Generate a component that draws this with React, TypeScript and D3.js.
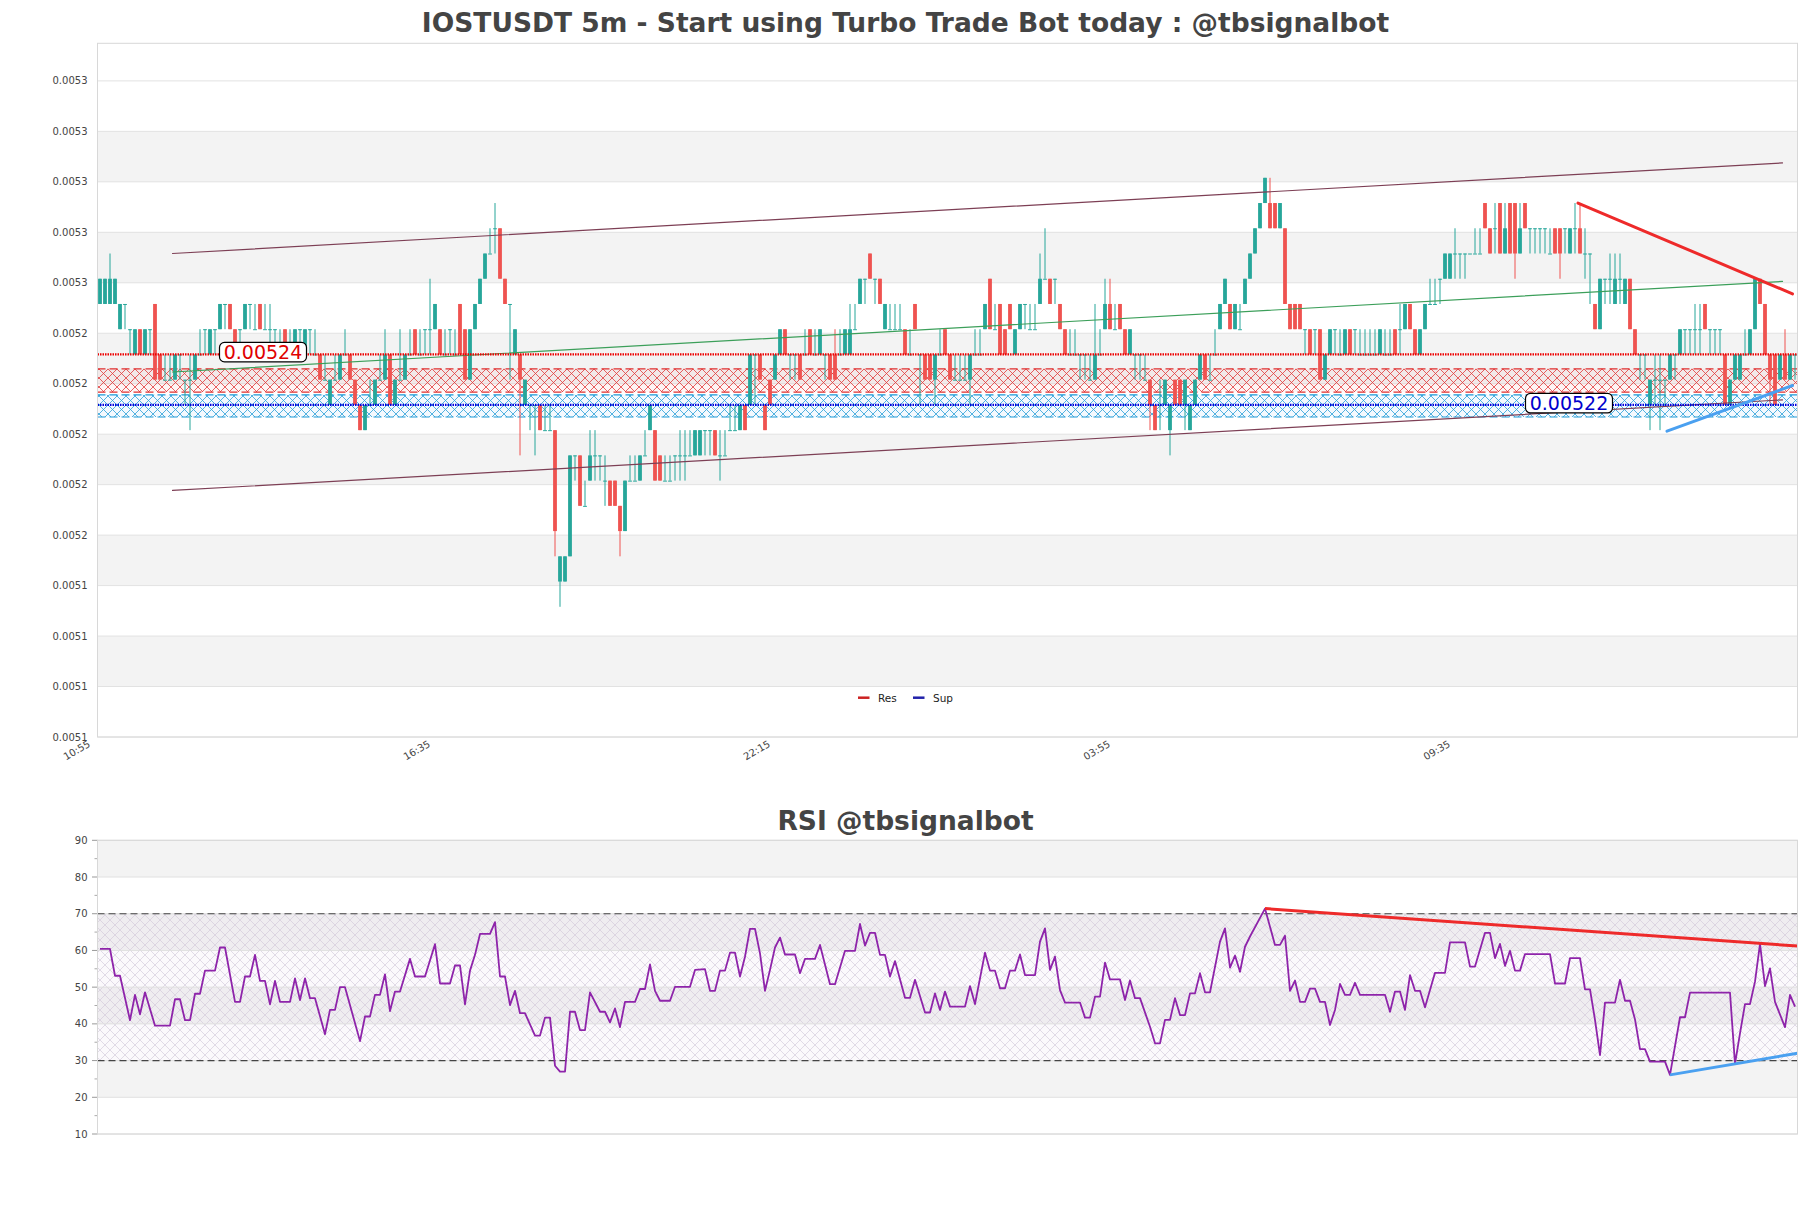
import { useEffect, useRef } from "react";
import * as d3 from "d3";

const W = 1811;
const H = 1208;
const FONT = "DejaVu Sans, sans-serif";

// candle prices in 0.00001 steps above 0.005 (24 -> 0.00524)
const opens = [
  26,26,26,26,25,26,25,24,25,24,25,26,24,23,23,23,24,23,23,23,
  24,25,24,25,25,26,26,25,25,25,26,25,26,25,25,25,24,25,24,24,
  25,24,25,24,24,23,22,23,23,24,24,23,22,21,22,22,23,23,24,22,
  23,23,24,25,24,25,25,25,25,24,25,24,26,25,23,25,26,27,28,29,
  29,27,26,24,24,22,22,22,22,21,21,21,15,15,16,20,20,18,19,20,
  20,19,19,19,18,17,19,19,19,20,21,21,20,19,19,20,20,20,20,20,
  20,21,21,21,20,20,21,21,21,22,22,24,24,22,23,23,24,25,24,24,
  24,24,25,24,24,24,24,24,24,24,24,25,26,27,28,27,27,25,25,25,
  25,25,24,26,24,24,24,23,24,25,24,23,23,23,23,24,24,25,27,25,
  26,25,26,24,25,26,25,25,26,27,27,27,26,25,24,24,24,24,23,23,
  24,25,26,25,26,25,24,24,24,23,23,22,22,22,21,23,23,22,21,22,
  23,24,23,24,25,26,26,25,25,26,27,28,29,30,30,30,29,29,26,26,
  26,25,25,25,25,23,24,25,24,24,25,25,24,24,24,24,24,24,24,25,
  25,25,26,25,24,25,26,26,27,27,27,28,28,28,28,28,28,30,29,29,
  30,28,30,30,28,30,29,29,29,29,28,29,29,29,28,29,29,28,28,26,
  25,27,27,26,27,26,27,25,24,24,22,23,23,23,23,24,24,25,25,25,
  25,26,25,25,25,24,22,23,23,24,24,25,27,26,24,24,23,24,23,24,
];
const closes = [
  27,27,27,27,26,26,25,25,24,25,25,23,23,23,23,24,24,23,23,24,
  24,25,25,25,26,26,25,24,25,26,26,25,25,25,25,25,24,24,24,25,
  25,25,25,24,23,23,23,23,24,24,23,22,21,22,22,23,23,24,22,23,
  23,24,24,24,24,25,25,26,24,24,25,24,24,23,25,26,27,28,28,29,
  27,26,26,25,23,23,22,22,21,21,21,17,16,16,20,20,18,18,20,20,
  20,19,18,18,17,19,19,19,20,20,22,19,19,19,19,20,20,20,20,21,
  21,21,21,20,20,20,21,21,22,21,24,24,23,21,22,24,25,24,24,24,
  23,24,24,24,25,24,23,23,24,25,25,25,27,27,27,27,26,26,25,25,
  25,24,24,25,24,23,23,24,24,24,23,23,23,23,24,24,24,26,25,25,
  24,24,25,25,26,26,25,25,27,27,26,27,25,24,24,24,24,24,23,24,
  24,26,25,25,25,24,25,24,24,23,22,21,22,23,22,22,22,23,22,23,
  24,23,23,24,26,27,25,26,25,27,28,29,30,31,29,29,30,26,25,25,
  25,25,24,25,23,24,25,25,24,25,24,25,24,24,24,24,25,24,24,24,
  25,26,25,24,25,26,26,26,27,28,28,28,28,28,28,28,28,29,28,29,
  28,29,28,28,29,29,29,29,29,29,28,28,28,29,29,29,28,28,28,25,
  27,27,27,27,27,27,25,24,24,24,23,23,23,23,24,24,25,25,25,25,
  25,25,25,25,25,22,23,24,24,24,25,27,26,24,23,22,24,23,24,24,
];
const highs = [
  27,27,28,27,26,26,25,25,25,25,25,26,24,24,24,24,24,23,24,24,
  25,25,25,25,26,26,26,25,25,26,26,26,26,26,26,25,25,25,25,25,
  25,25,25,25,24,24,23,24,24,25,24,23,22,22,23,23,24,25,24,23,
  25,24,25,25,25,25,27,26,25,25,25,25,26,25,25,26,27,28,29,30,
  29,27,26,25,24,23,22,22,22,22,22,21,16,16,20,20,20,19,21,21,
  20,20,19,19,18,19,20,20,20,21,22,21,20,20,20,20,21,21,21,21,
  21,21,21,21,21,21,22,22,22,22,24,24,24,22,23,24,25,25,24,24,
  24,25,25,25,25,24,24,25,25,25,26,26,27,27,28,27,27,26,26,26,
  26,25,25,26,24,24,24,24,25,25,24,24,24,24,24,25,25,26,27,26,
  26,25,26,25,26,26,26,26,28,29,27,27,26,25,25,25,24,24,24,26,
  25,27,27,26,26,25,25,24,24,24,23,22,23,23,22,23,23,23,22,23,
  24,24,24,25,26,27,26,26,26,27,28,29,30,31,31,30,30,29,26,26,
  26,25,25,25,25,24,25,25,25,25,25,25,25,25,25,25,25,25,25,25,
  26,26,26,25,25,26,27,27,27,28,28,29,28,28,28,29,29,30,29,30,
  30,30,30,30,30,30,29,29,29,29,29,29,29,29,29,30,30,29,28,26,
  27,27,28,28,28,27,27,25,24,24,23,24,24,23,24,24,25,25,25,26,
  26,26,25,25,25,24,23,24,24,25,25,27,27,26,24,24,24,25,24,24,
];
const lows = [
  26,26,26,26,25,25,24,24,24,24,24,23,23,23,23,23,23,22,21,23,
  24,24,24,24,25,25,25,24,24,25,25,25,25,25,24,24,24,24,24,24,
  24,24,24,24,23,23,22,23,23,24,23,22,21,21,22,22,23,23,22,22,
  23,23,24,24,24,24,24,25,24,24,24,24,24,23,23,25,26,27,28,28,
  27,26,23,24,20,22,21,20,21,21,21,16,14,15,16,19,18,18,19,19,
  19,18,18,18,16,17,19,19,19,20,21,19,19,19,19,19,19,19,20,20,
  20,20,20,20,19,20,21,21,21,21,22,22,23,21,22,23,24,24,23,23,
  23,24,24,24,24,23,23,23,24,24,24,25,26,26,27,26,26,25,25,25,
  25,24,24,25,22,23,23,22,24,24,23,23,23,23,22,24,24,25,25,25,
  24,24,25,24,25,25,25,25,26,27,26,26,25,24,24,24,23,23,23,23,
  24,25,25,25,25,24,24,23,23,23,21,21,21,22,20,22,22,21,21,22,
  23,23,23,24,25,26,25,25,25,26,27,28,29,30,29,29,29,26,25,25,
  25,24,24,24,23,23,24,24,24,24,24,24,24,24,24,24,24,24,24,24,
  24,25,25,24,24,25,26,26,26,27,27,27,27,27,28,28,28,29,28,28,
  28,28,28,27,28,29,28,28,28,28,28,28,27,28,28,28,28,27,26,25,
  25,26,26,26,26,26,25,24,23,23,21,22,21,22,23,23,24,24,24,24,
  24,25,24,24,24,22,22,23,23,24,24,25,26,24,22,22,23,23,23,23,
];
const PRICE_BASE = 0.005;
const PIP = 0.00001;

const timeTickIdx = [0, 68, 136, 204, 272];
const timeLabels = ["10:55", "16:35", "22:15", "03:55", "09:35"];

const yTickValues = [
  0.0050884, 0.0051084, 0.0051284, 0.0051484, 0.0051684, 0.0051884, 0.0052084,
  0.0052284, 0.0052484, 0.0052684, 0.0052884, 0.0053084, 0.0053284, 0.0053484,
];
const yDomain = [0.0050884, 0.0053633];

// support / resistance
const resLevel = 0.00524;
const supLevel = 0.00522;
const resZone = [0.0052251, 0.0052343];
const supZone = [0.0052152, 0.005224];
const channelIdx = [14.5, 336.5];
const channelUpper = [0.00528, 0.0053159];
const channelLower = [0.0051861, 0.005222];
const resTrendIdx = [295.6, 338.5];
const resTrendVal = [0.0053, 0.005264];
const supTrendIdx = [313.4, 338.5];
const supTrendVal = [0.0052096, 0.0052277];

// RSI turning points (candle index, value)
const rsiIdx = [
  0,2,3,4,6,7,8,9,11,14,15,16,17,18,19,20,21,23,24,25,27,28,29,30,31,32,33,34,35,36,38,39,40,41,42,43,45,46,47,48,49,
  52,53,54,55,56,57,58,59,60,62,63,65,67,68,70,71,72,73,74,75,76,78,79,80,81,82,83,84,85,87,88,89,90,91,92,93,94,95,
  96,97,98,100,101,102,103,104,105,107,108,109,110,111,112,114,115,118,119,121,122,123,124,125,126,127,128,129,130,
  131,132,133,134,135,136,137,139,140,141,143,144,146,147,149,151,152,153,154,155,156,157,158,159,161,162,163,165,166,
  167,168,169,170,173,174,175,177,178,179,180,181,182,183,184,185,187,188,189,190,191,192,193,196,197,198,199,200,201,
  202,204,205,206,207,208,210,211,212,213,214,215,216,217,218,219,220,221,222,224,225,226,227,228,229,230,233,235,236,
  237,238,239,240,241,242,243,244,245,246,247,248,249,250,251,252,257,258,259,260,261,262,263,264,265,267,269,270,273,
  274,275,277,278,279,280,281,282,283,284,285,290,291,293,294,296,297,298,299,300,301,303,304,305,306,307,308,309,310,
  313,314,316,317,318,326,327,328,329,330,331,332,333,334,335,337,338,339,
];
const rsiVal = [
  60.4,60.4,53.1,53.1,41.0,47.9,42.6,48.6,39.5,39.5,46.7,46.7,41.0,41.0,48.2,48.2,54.5,54.5,60.8,60.8,46.0,46.0,52.9,
  52.9,58.8,51.7,51.7,45.3,51.7,46.0,46.0,52.4,46.5,52.4,47.0,47.0,37.2,43.8,43.8,50.0,50.0,
  35.3,42.0,42.0,47.9,47.9,53.5,43.5,48.8,48.8,57.7,52.9,52.9,61.7,51.0,51.0,55.9,55.9,45.3,54.5,58.8,64.5,64.5,67.7,
  52.9,52.9,45.1,49.0,42.9,42.9,36.8,36.8,41.7,41.7,28.6,27.0,27.0,43.3,43.3,
  38.3,38.3,48.6,43.3,43.3,40.4,44.2,39.1,46.0,46.0,49.5,49.5,56.2,49.0,46.3,46.3,50.1,50.1,54.7,54.9,49.0,49.0,54.5,
  54.5,59.4,59.4,52.9,58.3,65.9,
  65.9,59.2,49.0,54.7,60.8,63.5,58.9,58.9,53.8,57.7,57.7,61.5,50.8,50.8,59.9,59.9,67.2,61.3,64.8,64.8,58.8,58.8,52.9,
  57.1,47.1,47.1,52.0,43.1,43.1,
  48.3,43.8,48.8,44.7,44.7,50.3,45.4,59.4,54.5,54.5,49.7,49.7,54.5,54.5,58.9,53.3,53.3,62.4,66.0,54.7,58.3,49.2,45.8,
  45.8,41.7,41.7,47.4,47.4,56.7,
  52.1,52.1,46.5,51.8,47.0,47.0,39.2,34.7,34.7,41.1,41.1,47.0,42.4,42.4,48.3,48.3,53.8,48.6,48.6,62.4,66.0,55.3,58.6,
  54.2,61.0,63.8,71.4,61.5,61.5,
  64.0,49.0,51.8,46.0,46.0,49.6,49.6,46.0,46.0,39.7,43.8,50.9,47.9,47.9,51.2,47.9,47.9,43.3,48.8,48.8,43.8,53.3,49.0,
  49.0,44.5,53.9,53.9,62.2,62.2,
  55.6,55.6,64.8,64.8,57.9,61.8,55.8,59.9,54.5,54.5,59.0,59.0,51.0,51.0,57.9,57.9,49.4,49.4,41.1,31.5,45.8,45.8,52.0,
  46.3,46.3,41.2,33.1,33.1,29.7,
  29.7,26.1,41.8,41.8,48.5,48.5,29.1,37.4,45.4,45.4,51.5,61.8,50.3,55.1,46.0,39.1,47.9,44.7,
];
const rsiTicks = [10, 20, 30, 40, 50, 60, 70, 80, 90];
const rsiResIdx = [233, 339.5];
const rsiResVal = [71.4, 61.2];
const rsiSupIdx = [314, 339.5];
const rsiSupVal = [26.1, 32.0];

const App = () => {
  const svgRef = useRef<SVGSVGElement>(null);

  useEffect(() => {
    if (!svgRef.current) return;
    const svg = d3.select(svgRef.current);
    svg.selectAll("*").remove();

    const N = opens.length;
    const main = { left: 97.5, right: 1797.5, top: 43.3, bottom: 737 };
    const rsiBox = { top: 840.3, bottom: 1134 };

    const x = d3.scaleLinear().domain([-0.5, N - 0.5]).range([main.left, main.right]);
    const y = d3.scaleLinear().domain(yDomain).range([main.bottom, main.top]);
    const yr = d3.scaleLinear().domain([10, 90]).range([rsiBox.bottom, rsiBox.top]);
    const px = (v: number) => y(PRICE_BASE + v * PIP);

    const defs = svg.append("defs");
    const hatch = (id: string, color: string, size: number, width: number) => {
      const p = defs
        .append("pattern")
        .attr("id", id)
        .attr("patternUnits", "userSpaceOnUse")
        .attr("width", size)
        .attr("height", size);
      p.append("path")
        .attr("d", `M0,0L${size},${size}M0,${size}L${size},0`)
        .attr("stroke", color)
        .attr("stroke-width", width)
        .attr("fill", "none");
    };
    hatch("resHatch", "#e23a3a", 9, 0.8);
    hatch("supHatch", "#2a9fd8", 9, 0.8);
    hatch("rsiHatch", "#cfc4d6", 10, 0.6);

    defs
      .append("clipPath")
      .attr("id", "mainClip")
      .append("rect")
      .attr("x", main.left)
      .attr("y", main.top)
      .attr("width", main.right - main.left)
      .attr("height", main.bottom - main.top);

    svg.append("rect").attr("width", W).attr("height", H).attr("fill", "#fff");

    // titles
    svg
      .append("text")
      .attr("x", W / 2)
      .attr("y", 31.7)
      .attr("text-anchor", "middle")
      .attr("font-family", FONT)
      .attr("font-weight", "bold")
      .attr("font-size", 26.5)
      .attr("fill", "#444")
      .text("IOSTUSDT 5m - Start using Turbo Trade Bot today : @tbsignalbot");

    svg
      .append("text")
      .attr("x", W / 2)
      .attr("y", 830)
      .attr("text-anchor", "middle")
      .attr("font-family", FONT)
      .attr("font-weight", "bold")
      .attr("font-size", 26.5)
      .attr("fill", "#444")
      .text("RSI @tbsignalbot");

    // ---------- main chart ----------
    const g = svg.append("g");

    // alternating bands
    for (let k = 1; k < yTickValues.length - 1; k += 2) {
      g.append("rect")
        .attr("x", main.left)
        .attr("y", y(yTickValues[k + 1]))
        .attr("width", main.right - main.left)
        .attr("height", y(yTickValues[k]) - y(yTickValues[k + 1]))
        .attr("fill", "#f3f3f3");
    }
    yTickValues.forEach((v) => {
      g.append("line")
        .attr("x1", main.left)
        .attr("x2", main.right)
        .attr("y1", y(v))
        .attr("y2", y(v))
        .attr("stroke", "#e2e2e2")
        .attr("stroke-width", 1);
      g.append("text")
        .attr("x", 87.5)
        .attr("y", y(v) + 3.6)
        .attr("text-anchor", "end")
        .attr("font-family", FONT)
        .attr("font-size", 10)
        .attr("fill", "#444")
        .text(d3.format(".4f")(v));
    });

    timeTickIdx.forEach((i, k) => {
      g.append("text")
        .attr("transform", `translate(${x(i) - 9},746) rotate(-30)`)
        .attr("text-anchor", "end")
        .attr("font-family", FONT)
        .attr("font-size", 10)
        .attr("fill", "#444")
        .text(timeLabels[k]);
    });

    const plot = g.append("g").attr("clip-path", "url(#mainClip)");

    // zones
    const zone = (z: number[], color: string, pat: string, dash: string) => {
      plot
        .append("rect")
        .attr("x", main.left)
        .attr("y", y(z[1]))
        .attr("width", main.right - main.left)
        .attr("height", y(z[0]) - y(z[1]))
        .attr("fill", color)
        .attr("fill-opacity", 0.05);
      plot
        .append("rect")
        .attr("x", main.left)
        .attr("y", y(z[1]))
        .attr("width", main.right - main.left)
        .attr("height", y(z[0]) - y(z[1]))
        .attr("fill", `url(#${pat})`);
      z.forEach((v) => {
        plot
          .append("line")
          .attr("x1", main.left)
          .attr("x2", main.right)
          .attr("y1", y(v))
          .attr("y2", y(v))
          .attr("stroke", dash)
          .attr("stroke-width", 1.2)
          .attr("stroke-dasharray", "8,4");
      });
    };
    zone(resZone, "#e53935", "resHatch", "#e03030");
    zone(supZone, "#1e88e5", "supHatch", "#1f9ad6");

    // candles
    const bodyW = 3.8;
    const up = "#26a69a";
    const down = "#ef5350";
    for (let i = 0; i < N; i++) {
      const col = closes[i] < opens[i] ? down : up;
      plot
        .append("line")
        .attr("x1", x(i))
        .attr("x2", x(i))
        .attr("y1", px(highs[i]))
        .attr("y2", px(lows[i]))
        .attr("stroke", col)
        .attr("stroke-width", 1);
      const top = px(Math.max(opens[i], closes[i]));
      const bot = px(Math.min(opens[i], closes[i]));
      plot
        .append("rect")
        .attr("x", x(i) - bodyW / 2)
        .attr("y", top)
        .attr("width", bodyW)
        .attr("height", Math.max(1, bot - top))
        .attr("fill", col);
    }

    // channel
    const seg = (idx: number[], val: number[], color: string, w: number) => {
      plot
        .append("line")
        .attr("x1", x(idx[0]))
        .attr("x2", x(idx[1]))
        .attr("y1", y(val[0]))
        .attr("y2", y(val[1]))
        .attr("stroke", color)
        .attr("stroke-width", w)
        .attr("stroke-linecap", "round");
    };
    seg(channelIdx, channelUpper, "#7d3f55", 1.2);
    seg(channelIdx, channelLower, "#7d3f55", 1.2);
    seg(
      channelIdx,
      [(channelUpper[0] + channelLower[0]) / 2, (channelUpper[1] + channelLower[1]) / 2],
      "#3c9f5a",
      1.2,
    );

    // res / sup lines
    plot
      .append("line")
      .attr("x1", main.left)
      .attr("x2", main.right)
      .attr("y1", y(resLevel))
      .attr("y2", y(resLevel))
      .attr("stroke", "#ee0000")
      .attr("stroke-width", 2.2)
      .attr("stroke-dasharray", "1.5,1");
    plot
      .append("line")
      .attr("x1", main.left)
      .attr("x2", main.right)
      .attr("y1", y(supLevel))
      .attr("y2", y(supLevel))
      .attr("stroke", "#0000dd")
      .attr("stroke-width", 2.2)
      .attr("stroke-dasharray", "1.5,1");

    seg(resTrendIdx, resTrendVal, "#ee2a2a", 3);
    seg(supTrendIdx, supTrendVal, "#4aa0f0", 3);

    // value labels
    const tag = (cx: number, cy: number, txt: string, color: string) => {
      const w = 87;
      const h = 19.5;
      plot
        .append("rect")
        .attr("x", cx - w / 2)
        .attr("y", cy - h / 2)
        .attr("width", w)
        .attr("height", h)
        .attr("rx", 5)
        .attr("fill", "#fff")
        .attr("stroke", "#000")
        .attr("stroke-width", 1.2);
      plot
        .append("text")
        .attr("x", cx)
        .attr("y", cy + 7)
        .attr("text-anchor", "middle")
        .attr("font-family", FONT)
        .attr("font-size", 19)
        .attr("fill", color)
        .text(txt);
    };
    tag(x(32.6), y(resLevel) - 2.3, d3.format(".5f")(resLevel), "#e00000");
    tag(x(293.8), y(supLevel) - 1.7, d3.format(".5f")(supLevel), "#0000cc");

    // legend
    const legY = main.bottom - 39.3;
    const leg = [
      { name: "Res", color: "#cc2222", x0: 858 },
      { name: "Sup", color: "#2222aa", x0: 913 },
    ];
    leg.forEach((d) => {
      g.append("line")
        .attr("x1", d.x0)
        .attr("x2", d.x0 + 11.5)
        .attr("y1", legY)
        .attr("y2", legY)
        .attr("stroke", d.color)
        .attr("stroke-width", 2.5);
      g.append("text")
        .attr("x", d.x0 + 20)
        .attr("y", legY + 3.8)
        .attr("font-family", FONT)
        .attr("font-size", 10.5)
        .attr("fill", "#222")
        .text(d.name);
    });

    g.append("rect")
      .attr("x", main.left)
      .attr("y", main.top)
      .attr("width", main.right - main.left)
      .attr("height", main.bottom - main.top)
      .attr("fill", "none")
      .attr("stroke", "#d8d8d8")
      .attr("stroke-width", 1);

    // ---------- RSI ----------
    const r = svg.append("g");
    [20, 40, 60, 80].forEach((v) => {
      r.append("rect")
        .attr("x", main.left)
        .attr("y", yr(v + 10))
        .attr("width", main.right - main.left)
        .attr("height", yr(v) - yr(v + 10))
        .attr("fill", "#f3f3f3");
    });
    r.append("rect")
      .attr("x", main.left)
      .attr("y", yr(70))
      .attr("width", main.right - main.left)
      .attr("height", yr(30) - yr(70))
      .attr("fill", "#9c6cb8")
      .attr("fill-opacity", 0.045);
    r.append("rect")
      .attr("x", main.left)
      .attr("y", yr(70))
      .attr("width", main.right - main.left)
      .attr("height", yr(30) - yr(70))
      .attr("fill", "url(#rsiHatch)");

    rsiTicks.forEach((v) => {
      r.append("line")
        .attr("x1", main.left)
        .attr("x2", main.right)
        .attr("y1", yr(v))
        .attr("y2", yr(v))
        .attr("stroke", "#e0e0e0");
      r.append("line")
        .attr("x1", main.left - 5.5)
        .attr("x2", main.left)
        .attr("y1", yr(v))
        .attr("y2", yr(v))
        .attr("stroke", "#999");
      if (v < 90) {
        r.append("line")
          .attr("x1", main.left - 3)
          .attr("x2", main.left)
          .attr("y1", yr(v + 5))
          .attr("y2", yr(v + 5))
          .attr("stroke", "#aaa");
      }
      r.append("text")
        .attr("x", 87.5)
        .attr("y", yr(v) + 3.6)
        .attr("text-anchor", "end")
        .attr("font-family", FONT)
        .attr("font-size", 10)
        .attr("fill", "#444")
        .text(v);
    });

    [30, 70].forEach((v) => {
      r.append("line")
        .attr("x1", main.left)
        .attr("x2", main.right)
        .attr("y1", yr(v))
        .attr("y2", yr(v))
        .attr("stroke", "#444")
        .attr("stroke-width", 1.2)
        .attr("stroke-dasharray", "7,4");
    });

    const rsiLine = d3
      .line<number>()
      .x((d) => x(d))
      .y((_, k) => yr(rsiVal[k]));
    r.append("path")
      .datum(rsiIdx)
      .attr("d", rsiLine)
      .attr("fill", "none")
      .attr("stroke", "#8e24aa")
      .attr("stroke-width", 1.8)
      .attr("stroke-linejoin", "round");

    const rseg = (idx: number[], val: number[], color: string) => {
      r.append("line")
        .attr("x1", x(idx[0]))
        .attr("x2", x(idx[1]))
        .attr("y1", yr(val[0]))
        .attr("y2", yr(val[1]))
        .attr("stroke", color)
        .attr("stroke-width", 3);
    };
    rseg(rsiResIdx, rsiResVal, "#ee2a2a");
    rseg(rsiSupIdx, rsiSupVal, "#4aa0f0");

    r.append("rect")
      .attr("x", main.left)
      .attr("y", rsiBox.top)
      .attr("width", main.right - main.left)
      .attr("height", rsiBox.bottom - rsiBox.top)
      .attr("fill", "none")
      .attr("stroke", "#d8d8d8")
      .attr("stroke-width", 1);
  }, []);

  return (
    <div style={{ position: "absolute", left: 0, top: 0 }}>
      <svg ref={svgRef} width={W} height={H} style={{ display: "block" }} />
    </div>
  );
};

export default App;
